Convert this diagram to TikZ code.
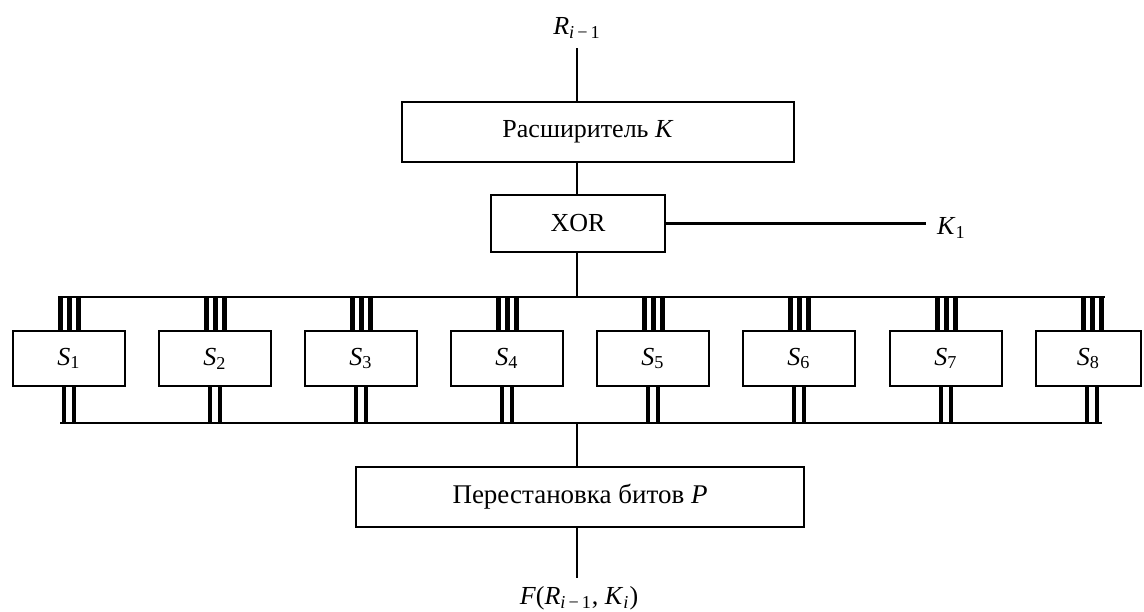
\documentclass[tikz,border=0pt]{standalone}
\usepackage{fontspec}
\setmainfont{Liberation Serif}
\newcommand{\mysub}[1]{\textsubscript{#1}}
\begin{document}
\begin{tikzpicture}[x=0.5pt,y=-0.5pt,
  every node/.style={font=\fontsize{13}{15}\selectfont},
  box/.style={draw, line width=1.4pt, inner sep=0pt},
  conn/.style={line width=1.1pt},
  topbar/.style={line width=2.5pt},
  botbar/.style={line width=2.3pt}]
\useasboundingbox[fill=white] (0,0) rectangle (1144,611);

% labels
\node (rlab) at (577,28) {\textit{R}\mysub{\textit{i}\,−\,1}};
\coordinate (rin) at (577,48);

% main boxes
\node[box, minimum width=392*0.5pt, minimum height=60*0.5pt] (exp) at (598,132) {Расширитель \textit{K}\hspace*{10pt}};
\node[box, minimum width=174*0.5pt, minimum height=57*0.5pt] (xor) at (578,223.5) {XOR};
\node[box, minimum width=448*0.5pt, minimum height=60*0.5pt] (perm) at (580,497) {\fontsize{13.5}{15}\selectfont Перестановка битов \textit{P}};

\coordinate (k1end) at (926,223.5);
\node[anchor=west] (k1lab) at (930,228) {\textit{K}\mysub{1}};

\coordinate (tbusc) at (577,297);
\coordinate (tbl) at (58,297);
\coordinate (tbr) at (1105,297);
\coordinate (bbusc) at (577,423);
\coordinate (bbl) at (60,423);
\coordinate (bbr) at (1102,423);
\coordinate (fout) at (577,578);
\node (flab) at (579,598) {\textit{F}(\textit{R}\mysub{\textit{i}\,−\,1}, \textit{K}\mysub{\textit{i}})};

% connectors
\draw[conn] (rin) -- (rin |- exp.north);
\draw[conn] (rin |- exp.south) -- (rin |- xor.north);
\draw[conn] (xor.east) -- (k1end);
\draw[conn] (rin |- xor.south) -- (tbusc);
\draw[conn] (tbl) -- (tbr);
\draw[conn] (bbl) -- (bbr);
\draw[conn] (bbusc) -- (bbusc |- perm.north);
\draw[conn] (bbusc |- perm.south) -- (fout);

% S-boxes
\foreach \i/\cx/\w/\bx in {1/69/112/69,2/215/112/215,3/361/112/361,4/507/112/507,5/653/112/653,6/799/112/799,7/946/112/946,8/1088.5/105/1092}{
  \node[box, minimum width=\w*0.5pt, minimum height=55*0.5pt] (S\i) at (\cx,358.5) {\textit{S}\mysub{\i}};
  \foreach \dx in {-9,0,9}{
    \draw[topbar] ({\bx+\dx},297) -- ({\bx+\dx},297 |- S\i.north);
  }
  \foreach \dx in {-5,5}{
    \draw[botbar] ({\bx+\dx},297 |- S\i.south) -- ({\bx+\dx},423);
  }
}
\end{tikzpicture}
\end{document}
